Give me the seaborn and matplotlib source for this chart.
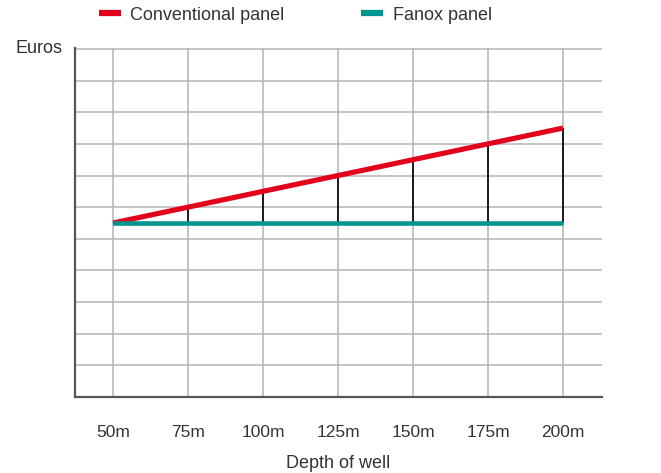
import seaborn as sns
import matplotlib.pyplot as plt
import pandas as pd
from matplotlib.lines import Line2D

# data (cost in arbitrary euro units)
depths = [50, 75, 100, 125, 150, 175, 200]
depth_labels = ['50m', '75m', '100m', '125m', '150m', '175m', '200m']
conventional = [5.5, 6.0, 6.5, 7.0, 7.5, 8.0, 8.5]
fanox = [5.5, 5.5, 5.5, 5.5, 5.5, 5.5, 5.5]

red = '#e2001a'
teal = '#00968f'
txt = '#333333'

sns.set_style('white')
plt.rcParams['font.family'] = ['Liberation Sans', 'DejaVu Sans']

df = pd.DataFrame({'depth': depths, 'Conventional panel': conventional, 'Fanox panel': fanox})

fig = plt.figure(figsize=(6.61, 4.73), dpi=100)
ax = fig.add_axes([75/661, 1-397/473, (602-75)/661, (397-48)/473])

# black connectors between the two lines
ax.vlines(df['depth'], df['Fanox panel'], df['Conventional panel'], color='black', lw=1.2, zorder=2)

sns.lineplot(data=df, x='depth', y='Conventional panel', ax=ax, color=red, lw=3.7,
             solid_capstyle='butt', zorder=3)
sns.lineplot(data=df, x='depth', y='Fanox panel', ax=ax, color=teal, lw=3.3,
             solid_capstyle='butt', zorder=4)

ax.set_xlim(37.3, 213)
ax.set_ylim(0, 11.03)
ax.set_xticks(depths)
ax.set_xticklabels(depth_labels, fontsize=12.5, color=txt)
ax.set_yticks(range(0, 12))
ax.set_yticklabels([])
ax.tick_params(axis='both', length=0)
ax.tick_params(axis='x', pad=20)
ax.grid(True, color='#b4b4b4', lw=1.1)
ax.set_axisbelow(True)

for s in ['top', 'right']:
    ax.spines[s].set_visible(False)
for s in ['left', 'bottom']:
    ax.spines[s].set_color('#555555')
    ax.spines[s].set_linewidth(1.6)
    ax.spines[s].set_zorder(5)

ax.set_xlabel('Depth of well', fontsize=13, color=txt, labelpad=11)
ax.set_ylabel('Euros', fontsize=13, color=txt, rotation=0, ha='right', va='center')
ax.yaxis.set_label_coords(-0.024, 1.0)

handles = [Line2D([], [], color=red, lw=4.5, solid_capstyle='butt'),
           Line2D([], [], color=teal, lw=4.5, solid_capstyle='butt')]
fig.legend(handles, ['Conventional panel', 'Fanox panel'], loc='center left',
           bbox_to_anchor=(0.125, 1-15/473), ncol=2, frameon=False, fontsize=13,
           handlelength=1.2, handletextpad=0.55, columnspacing=4.25, labelcolor=txt)

fig.savefig('out.png', dpi=100)
